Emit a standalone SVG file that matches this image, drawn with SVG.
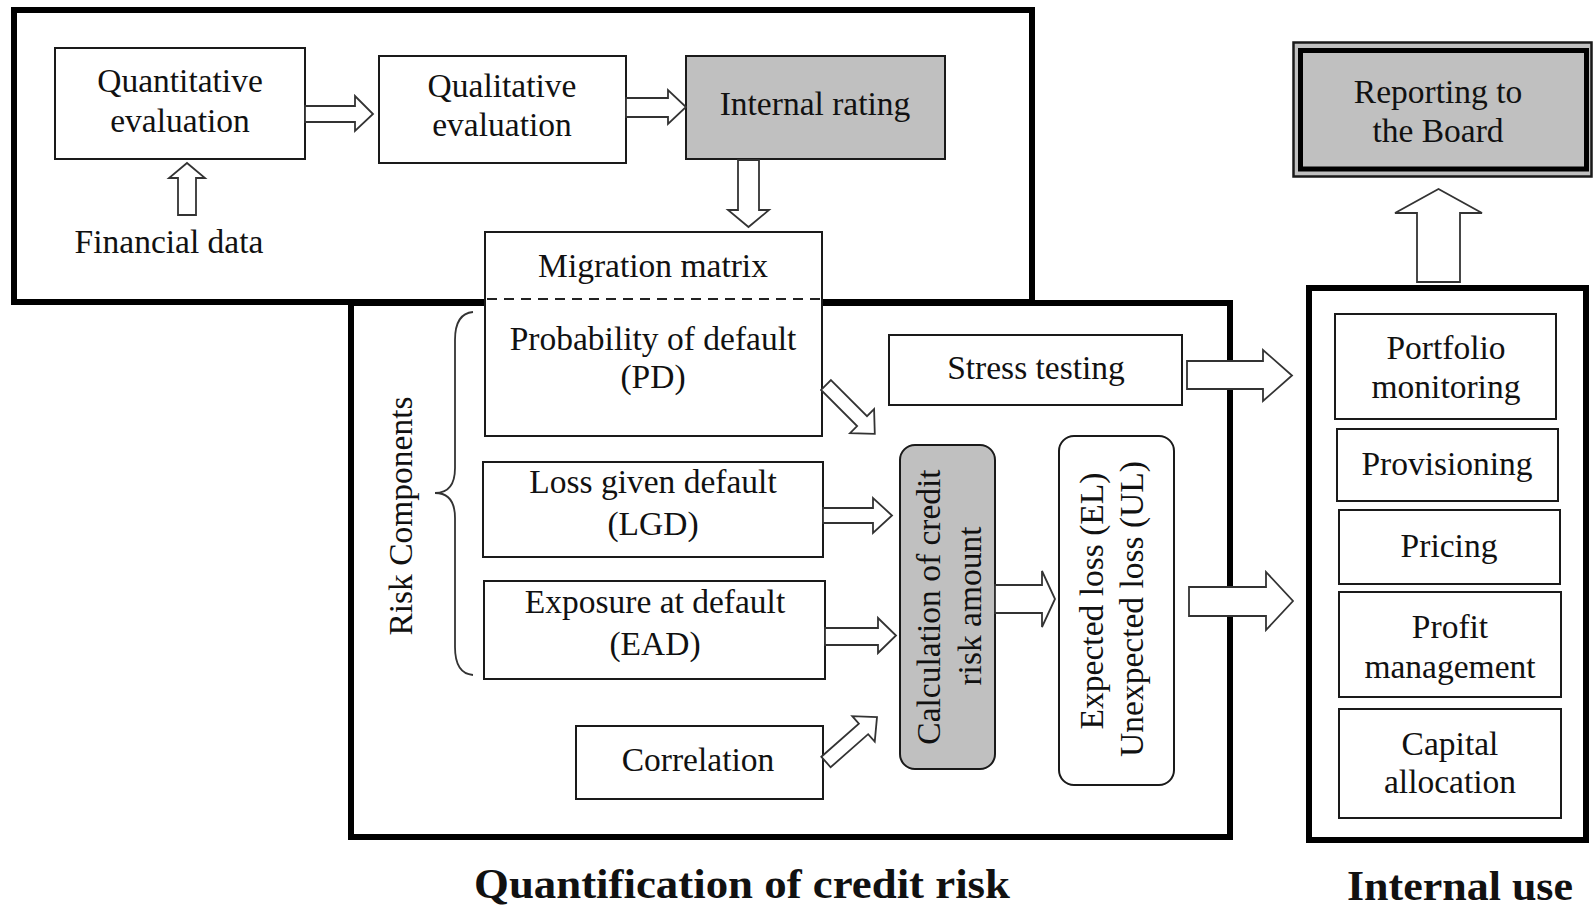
<svg xmlns="http://www.w3.org/2000/svg" width="1593" height="906" viewBox="0 0 1593 906">
  <style>
    .frame { fill: none; stroke: #000; stroke-width: 6; }
    .box { fill: #fff; stroke: #1a1a1a; stroke-width: 2; }
    .shaded { fill: #c0c0c0; stroke: #1a1a1a; stroke-width: 2; }
    .txt { font-family: "Liberation Serif", "Times New Roman", serif; font-size: 33.5px; fill: #111; text-anchor: middle; }
    .title { font-family: "Liberation Serif", "Times New Roman", serif; font-size: 43px; font-weight: bold; fill: #111; text-anchor: middle; }
    .arrow { fill: #fff; stroke: #333; stroke-width: 1.8; stroke-linejoin: miter; }
    .brace { fill: none; stroke: #333; stroke-width: 1.8; }
    .dash { fill: none; stroke: #222; stroke-width: 2; stroke-dasharray: 10 7; }
  </style>
  <rect width="1593" height="906" fill="#fff"/>

  <!-- section frames -->
  <g id="frames">
    <rect class="frame" x="14" y="10" width="1018" height="292"/>
    <rect class="frame" x="351" y="303" width="879" height="534"/>
    <rect class="frame" x="1309" y="288" width="277" height="552"/>
  </g>

  <!-- rating stage -->
  <g id="quantitative">
    <rect class="box" x="55" y="48" width="250" height="111"/>
    <text class="txt" x="180" y="92">Quantitative</text>
    <text class="txt" x="180" y="132">evaluation</text>
  </g>
  <g id="financial-data">
    <text class="txt" x="169" y="253">Financial data</text>
  </g>
  <g id="qualitative">
    <rect class="box" x="379" y="56" width="247" height="107"/>
    <text class="txt" x="502" y="97">Qualitative</text>
    <text class="txt" x="502" y="136">evaluation</text>
  </g>
  <g id="internal-rating">
    <rect class="shaded" x="686" y="56" width="259" height="103"/>
    <text class="txt" x="815" y="115">Internal rating</text>
  </g>

  <!-- risk components -->
  <g id="migration-pd">
    <rect class="box" x="485" y="232" width="337" height="204"/>
    <line class="dash" x1="487" y1="299" x2="820" y2="299"/>
    <text class="txt" x="653" y="277">Migration matrix</text>
    <text class="txt" x="653" y="350">Probability of default</text>
    <text class="txt" x="653" y="388">(PD)</text>
  </g>
  <g id="lgd">
    <rect class="box" x="483" y="462" width="340" height="95"/>
    <text class="txt" x="653" y="493">Loss given default</text>
    <text class="txt" x="653" y="535">(LGD)</text>
  </g>
  <g id="ead">
    <rect class="box" x="484" y="581" width="341" height="98"/>
    <text class="txt" x="655" y="613">Exposure at default</text>
    <text class="txt" x="655" y="655">(EAD)</text>
  </g>
  <g id="correlation">
    <rect class="box" x="576" y="726" width="247" height="73"/>
    <text class="txt" x="698" y="771">Correlation</text>
  </g>
  <g id="risk-components">
    <path class="brace" d="M473,312 C461,313 455,322 455,340 L455,468 C455,485 448,493 435,493 C448,493 455,501 455,518 L455,647 C455,664 461,674 473,675"/>
    <text class="txt" transform="translate(412,516) rotate(-90)" fill="#222">Risk Components</text>
  </g>
  <g id="stress-testing">
    <rect class="box" x="889" y="335" width="293" height="70"/>
    <text class="txt" x="1036" y="379">Stress testing</text>
  </g>
  <g id="calculation">
    <rect class="shaded" x="900" y="445" width="95" height="324" rx="15" ry="15"/>
    <text class="txt" transform="translate(940,607) rotate(-90)">Calculation of credit</text>
    <text class="txt" transform="translate(981,606) rotate(-90)">risk amount</text>
  </g>
  <g id="losses">
    <rect class="box" x="1059" y="436" width="115" height="349" rx="15" ry="15"/>
    <text class="txt" transform="translate(1103,601) rotate(-90)">Expected loss (EL)</text>
    <text class="txt" transform="translate(1143,609) rotate(-90)">Unexpected loss (UL)</text>
  </g>

  <!-- internal use -->
  <g id="reporting">
    <rect x="1293.5" y="42.5" width="298" height="134" fill="#c0c0c0" stroke="#1a1a1a" stroke-width="2.5"/>
    <rect x="1300.5" y="50.5" width="286" height="118.5" fill="none" stroke="#000" stroke-width="5"/>
    <text class="txt" x="1438" y="103">Reporting to</text>
    <text class="txt" x="1438" y="142">the Board</text>
  </g>
  <g id="portfolio">
    <rect class="box" x="1335" y="314" width="221" height="105"/>
    <text class="txt" x="1446" y="359">Portfolio</text>
    <text class="txt" x="1446" y="398">monitoring</text>
  </g>
  <g id="provisioning">
    <rect class="box" x="1337" y="429" width="221" height="72"/>
    <text class="txt" x="1447" y="475">Provisioning</text>
  </g>
  <g id="pricing">
    <rect class="box" x="1339" y="510" width="221" height="74"/>
    <text class="txt" x="1449" y="557">Pricing</text>
  </g>
  <g id="profit">
    <rect class="box" x="1339" y="592" width="222" height="105"/>
    <text class="txt" x="1450" y="638">Profit</text>
    <text class="txt" x="1450" y="678">management</text>
  </g>
  <g id="capital">
    <rect class="box" x="1339" y="709" width="222" height="109"/>
    <text class="txt" x="1450" y="755">Capital</text>
    <text class="txt" x="1450" y="793">allocation</text>
  </g>

  <!-- section titles -->
  <g id="titles">
    <text class="title" x="742" y="898" textLength="536" lengthAdjust="spacingAndGlyphs">Quantification of credit risk</text>
    <text class="title" x="1460" y="900" textLength="226" lengthAdjust="spacingAndGlyphs">Internal use</text>
  </g>

  <!-- block arrows -->
  <g id="connectors">
    <polygon class="arrow" points="178,215 178,178 169,178 187,163 205,178 196,178 196,215"/>
    <polygon class="arrow" points="305,106 355,106 355,96 373,114 355,131 355,122 305,122"/>
    <polygon class="arrow" points="626,98 668,98 668,90 686,107 668,124 668,117 626,117"/>
    <polygon class="arrow" points="738,160 738,210 728,210 748.5,227 769,210 759,210 759,160"/>
    <polygon class="arrow" transform="translate(826,385) rotate(45)" points="0,-7 51,-7 51,-17 69,0 51,17 51,7 0,7"/>
    <polygon class="arrow" points="823,508 873,508 873,498 892,515.5 873,533 873,523 823,523"/>
    <polygon class="arrow" points="825,628 878,628 878,618 896,635.5 878,653 878,645 825,645"/>
    <polygon class="arrow" transform="translate(826,762) rotate(-41.4)" points="0,-7 50,-7 50,-17 68,0 50,17 50,7 0,7"/>
    <polygon class="arrow" points="995,585 1042,585 1042,571 1055,599 1042,627 1042,613 995,613"/>
    <polygon class="arrow" points="1187,361 1263,361 1263,350 1292,375.5 1263,401 1263,389 1187,389"/>
    <polygon class="arrow" points="1189,587 1266,587 1266,572 1293,601 1266,630 1266,616 1189,616"/>
    <polygon class="arrow" points="1417,282 1417,213 1395,213 1438.5,189 1482,213 1460,213 1460,282"/>
  </g>
</svg>
